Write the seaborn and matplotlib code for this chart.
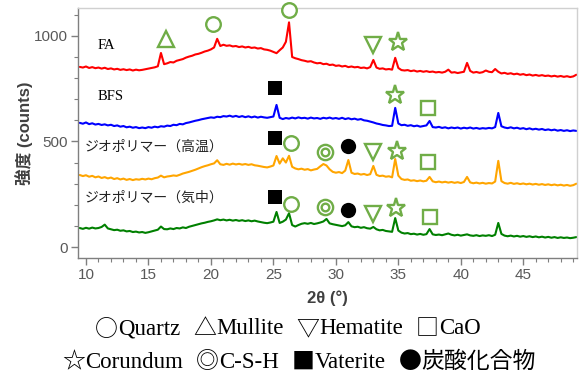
import numpy as np
import pandas as pd
import matplotlib
matplotlib.use("Agg")
import matplotlib.pyplot as plt
from matplotlib.ticker import MultipleLocator
import seaborn as sns

sns.set_theme(style="white")
plt.rcParams["font.family"] = ["Liberation Sans", "Noto Sans CJK JP", "DejaVu Sans"]

# 2θ sampling grid (degrees), 0.25° step
two_theta = np.round(9.5 + 0.25 * np.arange(160), 2)

fa = [
    853, 850, 855, 848, 852, 847, 850, 845, 849, 843, 846, 841, 844, 839, 842, 838, 841, 836, 840, 837,
    839, 842, 845, 848, 851, 856, 919, 866, 870, 876, 874, 882, 886, 890, 897, 902, 906, 912, 915, 920,
    926, 930, 936, 945, 986, 952, 958, 953, 955, 950, 952, 947, 950, 945, 948, 943, 945, 940, 942, 936,
    934, 930, 924, 918, 932, 945, 972, 1064, 900, 894, 890, 885, 882, 878, 880, 874, 870, 872, 866, 868,
    862, 864, 858, 860, 855, 858, 852, 855, 851, 853, 848, 850, 846, 852, 886, 850, 844, 846, 841, 843,
    840, 896, 848, 838, 836, 838, 833, 836, 831, 834, 830, 833, 829, 831, 827, 829, 826, 830, 840, 826,
    828, 824, 827, 830, 872, 834, 826, 829, 825, 828, 836, 830, 828, 843, 830, 822, 825, 820, 823, 818,
    821, 816, 819, 814, 817, 812, 815, 811, 814, 810, 812, 808, 811, 807, 810, 806, 809, 805, 808, 816,
]

bfs = [
    588, 584, 590, 582, 586, 580, 583, 578, 581, 576, 579, 573, 576, 570, 573, 567, 570, 565, 568, 563,
    566, 563, 568, 565, 570, 567, 572, 570, 575, 573, 579, 577, 583, 581, 587, 590, 594, 598, 601, 605,
    608, 611, 614, 612, 617, 615, 620, 618, 622, 617, 621, 616, 620, 615, 619, 614, 618, 613, 617, 614,
    612, 615, 618, 673, 612, 606, 611, 608, 613, 609, 614, 610, 612, 608, 613, 609, 611, 607, 612, 609,
    613, 608, 611, 607, 612, 606, 610, 605, 608, 603, 606, 600, 598, 594, 590, 585, 582, 578, 576, 573,
    574, 659, 585, 577, 579, 574, 577, 572, 575, 570, 573, 576, 597, 568, 566, 569, 564, 567, 562, 566,
    563, 566, 561, 565, 562, 566, 561, 564, 560, 563, 561, 564, 562, 568, 635, 572, 566, 563, 567, 562,
    565, 560, 563, 558, 562, 557, 560, 556, 559, 554, 557, 553, 556, 551, 554, 550, 553, 549, 552, 550,
]

geo_high = [
    341, 336, 340, 333, 337, 330, 334, 327, 331, 325, 329, 322, 326, 320, 324, 318, 322, 317, 321, 319,
    323, 320, 324, 321, 326, 329, 338, 330, 334, 336, 339, 337, 342, 348, 352, 356, 361, 366, 372, 378,
    383, 387, 392, 396, 411, 392, 389, 394, 390, 395, 391, 394, 390, 393, 389, 392, 387, 385, 382, 379,
    377, 381, 386, 431, 395, 420, 400, 432, 380, 372, 368, 371, 366, 369, 363, 367, 370, 382, 393, 386,
    368, 356, 352, 355, 350, 362, 412, 352, 346, 348, 343, 346, 341, 345, 384, 342, 336, 338, 333, 335,
    330, 417, 338, 322, 318, 320, 314, 316, 312, 315, 311, 314, 332, 311, 307, 310, 306, 309, 305, 308,
    304, 307, 303, 308, 332, 306, 302, 305, 301, 304, 300, 303, 301, 310, 408, 312, 303, 300, 304, 299,
    302, 298, 301, 297, 300, 296, 299, 295, 298, 294, 297, 293, 296, 292, 295, 291, 294, 290, 293, 300,
]

geo_air = [
    90, 86, 91, 87, 92, 88, 90, 95, 106, 88, 84, 80, 82, 77, 79, 74, 76, 71, 73, 69,
    71, 67, 70, 74, 78, 82, 97, 85, 84, 88, 85, 90, 88, 93, 90, 96, 100, 104, 108, 112,
    115, 119, 122, 126, 131, 127, 130, 126, 129, 125, 128, 124, 127, 123, 126, 122, 125, 121, 118, 115,
    113, 116, 120, 166, 114, 120, 130, 160, 104, 97, 104, 110, 113, 110, 114, 109, 112, 116, 121, 133,
    112, 108, 105, 102, 99, 103, 118, 98, 94, 96, 91, 94, 89, 87, 95, 84, 79, 81, 76, 74,
    72, 137, 78, 68, 64, 66, 61, 63, 59, 62, 58, 61, 85, 60, 57, 59, 56, 60, 64, 58,
    55, 58, 54, 57, 60, 55, 53, 56, 52, 55, 53, 56, 52, 58, 114, 62, 54, 51, 54, 50,
    53, 49, 52, 48, 51, 47, 50, 46, 49, 45, 48, 44, 47, 43, 46, 43, 45, 42, 44, 47,
]

series_names = ["FA", "BFS", "ジオポリマー（高温）", "ジオポリマー（気中）"]
series_values = [fa, bfs, geo_high, geo_air]
series_colors = ["#FF0000", "#0000FF", "#FFA500", "#008000"]
label_pos = [(10.9, 953), (10.9, 711), (9.9, 474), (9.9, 232)]

# phase identification marks: (2θ, counts)
quartz = [(20.2, 1057), (26.25, 1123), (26.4, 493), (26.4, 204)]
mullite = [(16.4, 986)]
hematite = [(33.0, 957), (33.0, 450), (33.0, 156)]
cao = [(37.4, 659), (37.4, 403), (37.5, 142)]
corundum = [(35.0, 972), (34.7, 720), (34.9, 455), (34.8, 185)]
csh = [(29.1, 450), (29.1, 190)]
vaterite = [(25.1, 754), (25.1, 517), (25.1, 237)]
carbonate = [(31.0, 479), (31.0, 175)]

# key to the phase symbols, as (symbol, name) pairs per line
key_line1 = [("○", "Quartz"), ("△", "Mullite"), ("▽", "Hematite"), ("□", "CaO")]
key_line2 = [("☆", "Corundum"), ("◎", "C-S-H"), ("■", "Vaterite"), ("●", "炭酸化合物")]

mark_green = "#70AD47"
W, H = 581, 378

fig = plt.figure(figsize=(W / 100, H / 100), dpi=100)
ax = fig.add_axes([78 / W, 1 - 258 / H, (577 - 78) / W, (258 - 8) / H])

for name, vals, col in zip(series_names, series_values, series_colors):
    df = pd.DataFrame({"two_theta": two_theta, "counts": vals})
    sns.lineplot(data=df, x="two_theta", y="counts", color=col, linewidth=1.5, ax=ax, legend=False)

for (tx, ty), name in zip(label_pos, series_names):
    if name.isascii():
        ax.text(tx, ty, name, fontsize=10.5, va="center", ha="left",
                family=["Liberation Serif", "DejaVu Serif"], color="black")
    else:
        ax.text(tx, ty, name, fontsize=10, va="center", ha="left",
                family=["Noto Sans CJK JP", "DejaVu Sans"], color="#222222")


def marks(points, **kw):
    xs = [p[0] for p in points]
    ys = [p[1] for p in points]
    ax.plot(xs, ys, linestyle="none", clip_on=False, zorder=5, **kw)


hollow = dict(markerfacecolor="white", markeredgecolor=mark_green, markeredgewidth=1.7)
marks(quartz, marker="o", markersize=10.5, **hollow)
marks(mullite, marker="^", markersize=11, **hollow)
marks(hematite, marker="v", markersize=11, **hollow)
marks(cao, marker="s", markersize=10.5, **hollow)
marks(corundum, marker="*", markersize=14, **hollow)
marks(csh, marker="o", markersize=11, **hollow)
marks(csh, marker="o", markersize=5.5, **hollow)
marks(vaterite, marker="s", markersize=10.5, color="black", markeredgewidth=0)
marks(carbonate, marker="o", markersize=11, color="black", markeredgewidth=0)

ax.set_xlim(9.36, 49.3)
ax.set_ylim(-52, 1132)
ax.xaxis.set_major_locator(MultipleLocator(5))
ax.xaxis.set_minor_locator(MultipleLocator(1))
ax.yaxis.set_major_locator(MultipleLocator(500))
ax.yaxis.set_minor_locator(MultipleLocator(100))

tick_gray = "#595959"
ax.tick_params(axis="both", which="major", direction="out", length=5, width=1,
               color="#7f7f7f", labelcolor=tick_gray, labelsize=11, pad=2)
ax.tick_params(axis="both", which="minor", direction="out", length=3, width=0.8,
               color="#7f7f7f")
ax.tick_params(axis="x", which="both", bottom=True, top=False)
ax.tick_params(axis="y", which="both", left=True, right=False)

for side in ["left", "bottom"]:
    ax.spines[side].set_color("#7f7f7f")
    ax.spines[side].set_linewidth(1.0)
for side in ["top", "right"]:
    ax.spines[side].set_color("#d0d0d0")
    ax.spines[side].set_linewidth(1.0)

ax.set_xlabel("2θ (°)", fontsize=12, fontweight="bold", color="#404040", labelpad=6)
ax.set_ylabel("強度 (counts)", fontsize=12, fontweight="bold", color="#404040", labelpad=1)

# phase key below the axes: CJK-font symbols followed by serif names
serif_font = ["Liberation Serif", "Noto Sans CJK JP", "DejaVu Sans"]
symbol_font = ["Noto Sans CJK JP", "DejaVu Sans"]
renderer = fig.canvas.get_renderer()


def key_row(items, y_px, x_center_px, size, gap_px):
    pieces = []
    for k, (sym, word) in enumerate(items):
        t_sym = fig.text(0, 1 - y_px / H, sym, fontsize=size, family=symbol_font,
                         va="center", ha="left", color="black")
        t_word = fig.text(0, 1 - y_px / H, word, fontsize=size, family=serif_font,
                          va="center", ha="left", color="black")
        pieces.append((t_sym, 0.0))
        pieces.append((t_word, gap_px if k < len(items) - 1 else 0.0))
    widths = [t.get_window_extent(renderer).width for t, _ in pieces]
    total = sum(widths) + sum(g for _, g in pieces)
    x = x_center_px - total / 2
    for (t, g), w in zip(pieces, widths):
        t.set_x(x / W)
        x += w + g


key_row(key_line1, 329, 288, 16.5, 13)
key_row(key_line2, 362, 299, 16.5, 13)

fig.savefig("out.png", dpi=100, facecolor="white")
